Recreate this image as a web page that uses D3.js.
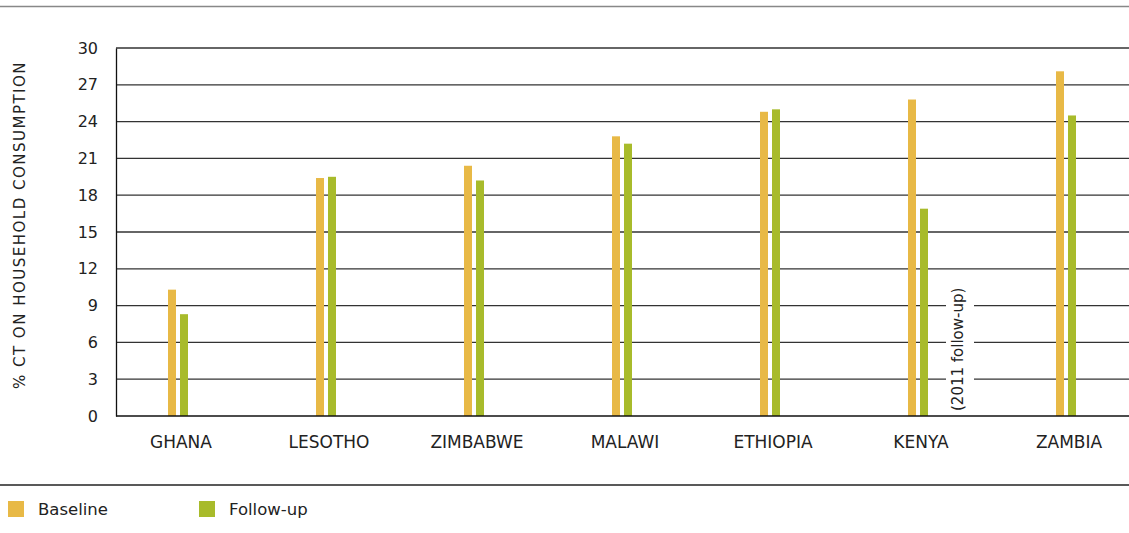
<!DOCTYPE html>
<html>
<head>
<meta charset="utf-8">
<script src="https://cdn.jsdelivr.net/npm/d3@7"></script>
<style>
body { margin: 0; background: #fff; }
svg { display: block; font-family: "DejaVu Sans", sans-serif; }
</style>
</head>
<body>
<svg></svg>
<script>
// data
var countries = ["GHANA", "LESOTHO", "ZIMBABWE", "MALAWI", "ETHIOPIA", "KENYA", "ZAMBIA"]
var baseline = [10.3, 19.4, 20.4, 22.8, 24.8, 25.8, 28.1]
var followup = [8.3, 19.5, 19.2, 22.2, 25.0, 16.9, 24.5]
var yTicks = [0, 3, 6, 9, 12, 15, 18, 21, 24, 27, 30]
var seriesNames = ["Baseline", "Follow-up"]
var colors = ["#e8b946", "#a8bb2b"]

var W = 1129, H = 533
var svg = d3.select('svg').attr('width', W).attr('height', H)

var plotLeft = 116, plotTop = 48, plotBottom = 416

var x = d3.scaleBand().domain(countries).range([104, 1140])
var y = d3.scaleLinear().domain([0, 30]).range([plotBottom, plotTop])

// top rule
svg.append('line')
  .attr('x1', 0).attr('x2', W).attr('y1', 6.5).attr('y2', 6.5)
  .attr('stroke', '#888').attr('stroke-width', 1.5)

// gridlines
svg.append('g')
  .selectAll('line')
  .data(yTicks.filter(d => d > 0))
  .enter()
  .append('line')
  .attr('x1', plotLeft).attr('x2', W)
  .attr('y1', d => y(d)).attr('y2', d => y(d))
  .attr('stroke', '#333').attr('stroke-width', 1.3)

// y axis
var yAxis = d3.axisLeft(y).tickValues(yTicks).tickSize(0).tickPadding(18)
var gy = svg.append('g').attr('transform', `translate(${plotLeft},0)`).call(yAxis)
gy.select('.domain').attr('stroke', '#111').attr('stroke-width', 1.3)
gy.selectAll('text').attr('font-size', 16).attr('fill', '#222')
  .attr('font-family', '"DejaVu Sans", sans-serif')

// y label
svg.append('text')
  .attr('transform', 'translate(25,225) rotate(-90)')
  .attr('text-anchor', 'middle')
  .attr('font-size', 15)
  .attr('letter-spacing', 1.5)
  .attr('fill', '#222')
  .text('% CT ON HOUSEHOLD CONSUMPTION')

// bars
var bw = 8, gap = 4
var cx = d => x(d) + x.bandwidth() / 2
var gBars = svg.append('g')
gBars.selectAll('rect.base')
  .data(countries)
  .enter()
  .append('rect')
  .attr('class', 'base')
  .attr('x', d => cx(d) - bw - gap / 2)
  .attr('y', (d, i) => y(baseline[i]))
  .attr('width', bw)
  .attr('height', (d, i) => y(0) - y(baseline[i]))
  .attr('fill', colors[0])
gBars.selectAll('rect.follow')
  .data(countries)
  .enter()
  .append('rect')
  .attr('class', 'follow')
  .attr('x', d => cx(d) + gap / 2)
  .attr('y', (d, i) => y(followup[i]))
  .attr('width', bw)
  .attr('height', (d, i) => y(0) - y(followup[i]))
  .attr('fill', colors[1])

// kenya note
var kx = cx("KENYA") + 40
svg.append('rect')
  .attr('x', kx - 12).attr('y', 284)
  .attr('width', 28).attr('height', 130)
  .attr('fill', '#fff')
svg.append('text')
  .attr('transform', `translate(${kx + 5},${y(0) - 5}) rotate(-90)`)
  .attr('font-size', 15)
  .attr('fill', '#222')
  .text('(2011 follow-up)')

// x axis
svg.append('line')
  .attr('x1', plotLeft).attr('x2', W).attr('y1', y(0)).attr('y2', y(0))
  .attr('stroke', '#111').attr('stroke-width', 1.5)
svg.append('g')
  .selectAll('text')
  .data(countries)
  .enter()
  .append('text')
  .attr('x', d => cx(d) + 3)
  .attr('y', 448)
  .attr('text-anchor', 'middle')
  .attr('font-size', 17)
  .attr('fill', '#222')
  .text(d => d)

// legend rule
svg.append('line')
  .attr('x1', 0).attr('x2', W).attr('y1', 485).attr('y2', 485)
  .attr('stroke', '#222').attr('stroke-width', 1.3)

// legend
var leg = svg.append('g')
  .selectAll('g')
  .data(seriesNames)
  .enter()
  .append('g')
  .attr('transform', (d, i) => `translate(${8 + i * 191},501)`)
leg.append('rect')
  .attr('width', 16).attr('height', 16)
  .attr('fill', (d, i) => colors[i])
leg.append('text')
  .attr('x', 30).attr('y', 14)
  .attr('font-size', 16.5)
  .attr('fill', '#222')
  .text(d => d)
</script>
</body>
</html>
